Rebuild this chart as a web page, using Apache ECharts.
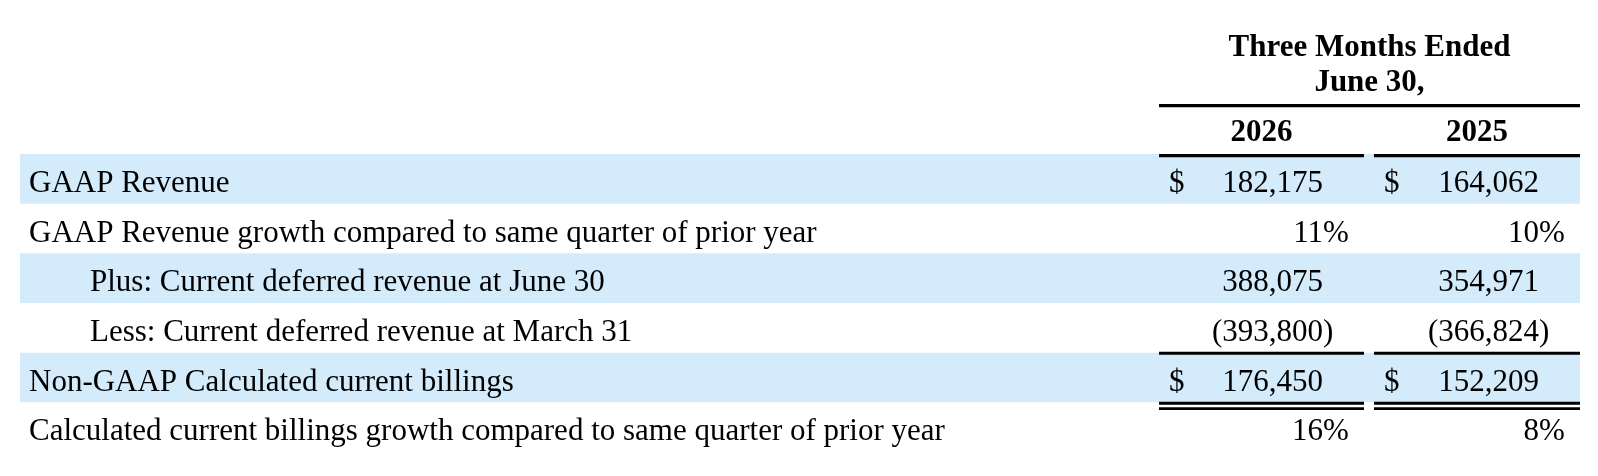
<!DOCTYPE html>
<html>
<head>
<meta charset="utf-8">
<script src="https://cdn.jsdelivr.net/npm/echarts@6/dist/echarts.min.js"></script>
<style>
  html, body { margin: 0; padding: 0; background: #fff; }
  #chart { width: 1598px; height: 476px; }
</style>
</head>
<body>
<div id="chart"></div>
<script>
// table content
var headerTitle = ['Three Months Ended', 'June 30,'];
var years = ['2026', '2025'];
var rowLabels = [
    'GAAP Revenue',
    'GAAP Revenue growth compared to same quarter of prior year',
    'Plus: Current deferred revenue at June 30',
    'Less: Current deferred revenue at March 31',
    'Non-GAAP Calculated current billings',
    'Calculated current billings growth compared to same quarter of prior year'
];
var values2026 = [182175, 11, 388075, -393800, 176450, 16];
var values2025 = [164062, 10, 354971, -366824, 152209, 8];
var rowKinds = ['dollar', 'percent', 'number', 'number', 'dollar', 'percent'];
var indentedRows = [2, 3];
var shadedRows = [0, 2, 4];
var ruleAbove = [4];        // single rule over the subtotal
var doubleRuleBelow = [4];  // double rule under the subtotal

// layout
var FONT = 'Liberation Serif, "Times New Roman", serif';
var FS = 31;
var BAND = '#d3ebfa';
var cols = [{ left: 1159, right: 1364 }, { left: 1374, right: 1580 }];
var bandLeft = 20, bandRight = 1580;
var labelX = 29, indentX = 90;
var numInset = 41, dollarInset = 10;

function fmt(v) {
    return Math.abs(v).toLocaleString('en-US');
}

var chart = echarts.init(document.getElementById('chart'));

function renderRow(params, api) {
    var i = params.dataIndex;
    var c = api.coord([0, i]);
    var h = api.size([0, 1])[1];
    var top = c[1] - h / 2;
    var ty = c[1] + 5;
    var kids = [];
    var x0 = api.coord([bandLeft, i])[0];
    var x1 = api.coord([bandRight, i])[0];

    if (shadedRows.indexOf(i) >= 0) {
        kids.push({ type: 'rect', shape: { x: x0, y: top, width: x1 - x0, height: h }, style: { fill: BAND } });
    }
    var lx = api.coord([indentedRows.indexOf(i) >= 0 ? indentX : labelX, i])[0];
    kids.push({ type: 'text', x: lx, y: ty, style: { text: rowLabels[i], font: FS + 'px ' + FONT, fill: '#000', align: 'left', verticalAlign: 'middle' } });

    [values2026[i], values2025[i]].forEach(function (v, k) {
        var cl = api.coord([cols[k].left, i])[0];
        var cr = api.coord([cols[k].right, i])[0];
        var nx = cr - numInset;
        var txt = fmt(v);
        var suffix = '';
        if (rowKinds[i] === 'percent') suffix = '%';
        if (v < 0) { txt = '(' + txt; suffix = ')'; }
        if (rowKinds[i] === 'dollar') {
            kids.push({ type: 'text', x: cl + dollarInset, y: ty, style: { text: '$', font: FS + 'px ' + FONT, fill: '#000', align: 'left', verticalAlign: 'middle' } });
        }
        kids.push({ type: 'text', x: nx, y: ty, style: { text: txt, font: FS + 'px ' + FONT, fill: '#000', align: 'right', verticalAlign: 'middle' } });
        if (suffix) {
            kids.push({ type: 'text', x: nx, y: ty, style: { text: suffix, font: FS + 'px ' + FONT, fill: '#000', align: 'left', verticalAlign: 'middle' } });
        }
        if (ruleAbove.indexOf(i) >= 0) {
            kids.push({ type: 'rect', shape: { x: cl, y: top - 1, width: cr - cl, height: 3 }, style: { fill: '#000' } });
        }
        if (doubleRuleBelow.indexOf(i) >= 0) {
            kids.push({ type: 'rect', shape: { x: cl, y: top + h - 0.5, width: cr - cl, height: 3 }, style: { fill: '#000' } });
            kids.push({ type: 'rect', shape: { x: cl, y: top + h + 5, width: cr - cl, height: 2.6 }, style: { fill: '#000' } });
        }
    });
    return { type: 'group', children: kids };
}

var headerCenter = (cols[0].left + cols[1].right) / 2;
var graphics = [
    { type: 'text', x: headerCenter, y: 48, style: { text: headerTitle[0], font: 'bold ' + FS + 'px ' + FONT, fill: '#000', align: 'center', verticalAlign: 'middle' } },
    { type: 'text', x: headerCenter, y: 83, style: { text: headerTitle[1], font: 'bold ' + FS + 'px ' + FONT, fill: '#000', align: 'center', verticalAlign: 'middle' } },
    { type: 'rect', shape: { x: cols[0].left, y: 104, width: cols[1].right - cols[0].left, height: 3.2 }, style: { fill: '#000' } }
];
years.forEach(function (yr, k) {
    graphics.push({ type: 'text', x: (cols[k].left + cols[k].right) / 2, y: 133, style: { text: yr, font: 'bold ' + FS + 'px ' + FONT, fill: '#000', align: 'center', verticalAlign: 'middle' } });
    graphics.push({ type: 'rect', z: 100, shape: { x: cols[k].left, y: 154, width: cols[k].right - cols[k].left, height: 3.2 }, style: { fill: '#000' } });
});

chart.setOption({
    animation: false,
    backgroundColor: '#fff',
    grid: { left: 0, right: 0, top: 154, bottom: 24 },
    xAxis: { type: 'value', min: 0, max: 1598, show: false },
    yAxis: { type: 'category', inverse: true, data: rowLabels.map(function (_, i) { return i; }), show: false },
    graphic: graphics,
    series: [{
        type: 'custom',
        renderItem: renderRow,
        encode: { x: 0, y: 1 },
        data: rowLabels.map(function (_, i) { return [0, i]; }),
        silent: true
    }]
});
</script>
</body>
</html>
